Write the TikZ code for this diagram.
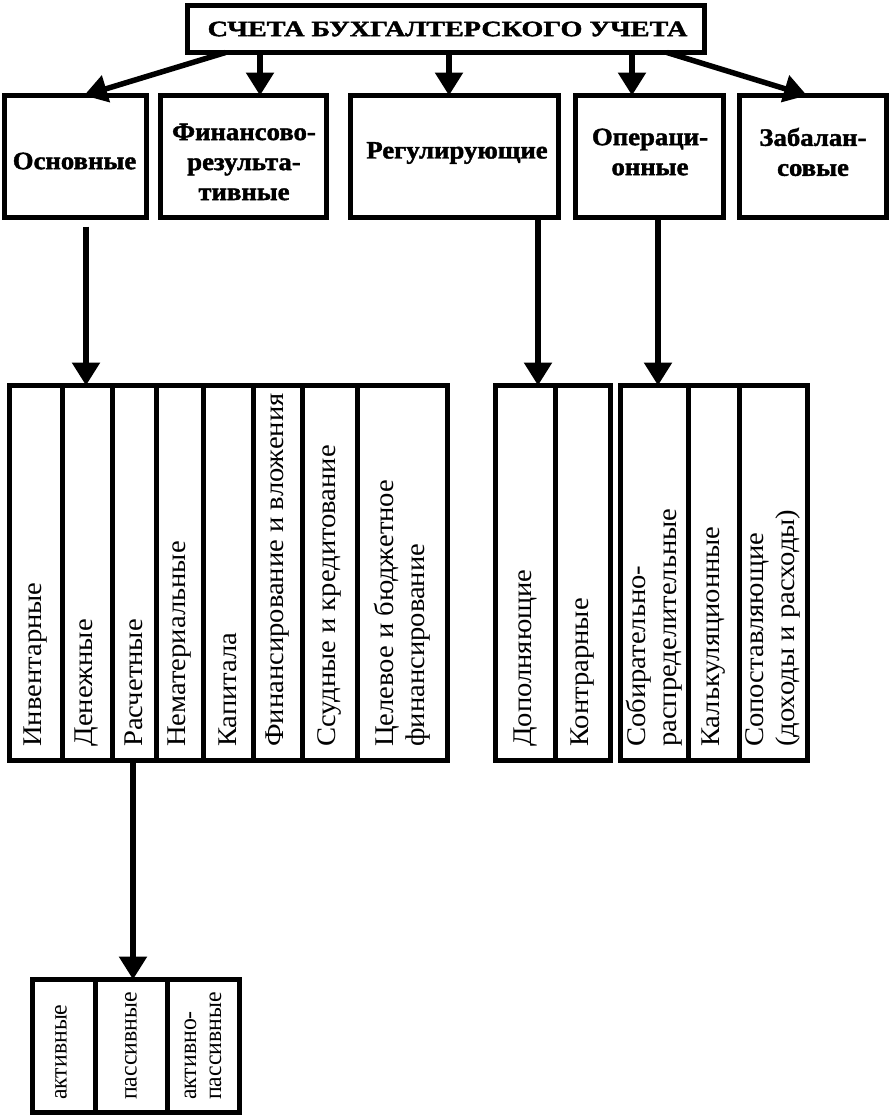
\documentclass[tikz,border=0pt]{standalone}
\usepackage{fontspec}
\usepackage{graphicx}
\setmainfont{Liberation Serif}
\newfontfamily\heavyfont[FakeBold=1.6]{Liberation Serif Bold}
\usetikzlibrary{arrows.meta,calc}
\newcommand{\hs}[2]{\scalebox{#1}[1]{#2}}
\newcommand{\mkcol}[7]{%
  \node[colbox, minimum width={#3-#2}, minimum height={#4-#5}] (#1) at ({(#2+#3)/2},{(#4+#5)/2}) {};
  \node[coltext, anchor=west] (#1t) at ({(#2+#3)/2},#6) {#7};
}
\tikzset{
  box/.style={draw, line width=5pt, rectangle, inner sep=0pt, outer sep=0pt},
  colbox/.style={draw, line width=5pt, rectangle, inner sep=0pt, outer sep=0pt},
  headtext/.style={inner sep=0pt, align=center, font=\fontsize{25pt}{30pt}\selectfont\heavyfont},
  coltext/.style={inner sep=0pt, rotate=90, align=left, font=\fontsize{27pt}{31pt}\selectfont},
  smalltext/.style={inner sep=0pt, rotate=90, align=left, font=\fontsize{24.5pt}{25pt}\selectfont},
  arr/.style={line width=5.5pt, -{Triangle[length=23pt,width=27pt]}},
}
\begin{document}
\begin{tikzpicture}[x=1pt,y=1pt]
\fill[white] (0,0) rectangle (891,-1117);
\useasboundingbox (0,0) rectangle (891,-1117);

% title
\node[box, minimum width=517, minimum height=47] (title) at (446,-29) {};
\node[inner sep=0pt, font=\fontsize{22pt}{24pt}\selectfont\heavyfont] (titlet) at (447.5,-29) {\hs{1.28}{СЧЕТА БУХГАЛТЕРСКОГО УЧЕТА}};

% second row
\node[box, minimum width=142, minimum height=122] (osn) at (75.5,-156.5) {};
\node[box, minimum width=166, minimum height=122] (fin) at (243.5,-156.5) {};
\node[box, minimum width=208, minimum height=122] (reg) at (454.5,-156.5) {};
\node[box, minimum width=148, minimum height=122] (oper) at (649.5,-156.5) {};
\node[box, minimum width=147, minimum height=122] (zab) at (813,-156.5) {};

\node[headtext] (osnt) at (74.5,-161) {\hs{1.07}{Основные}};
\node[headtext] (fint) at (244,-162) {\hs{1.07}{Финансово-}\\\hs{1.07}{результа-}\\\hs{1.07}{тивные}};
\node[headtext] (regt) at (457,-153) {\hs{1.07}{Регулирующие}};
\node[headtext] (opert) at (650,-152) {\hs{1.07}{Операци-}\\\hs{1.07}{онные}};
\node[headtext] (zabt) at (813,-152) {\hs{1.07}{Забалан-}\\\hs{1.07}{совые}};

% arrows from title
\draw[arr] ($(title.south west)+(38,0)$) -- ($(osn.north)+(8.5,0)$);
\coordinate (a2) at ($(fin.north)+(16.5,0)$);
\draw[arr] (title.south -| a2) -- (a2);
\coordinate (a3) at ($(reg.north)+(-5.5,0)$);
\draw[arr] (title.south -| a3) -- (a3);
\coordinate (a4) at ($(oper.north)+(-17.5,0)$);
\draw[arr] (title.south -| a4) -- (a4);
\draw[arr] ($(title.south east)+(-37.5,0)$) -- ($(zab.north)+(-6,0)$);

% left group of columns
\mkcol{c1}{9.5}{62}{-385.5}{-760.5}{-747}{\hs{1.06}{Инвентарные}}
\mkcol{c2}{62}{112}{-385.5}{-760.5}{-747}{\hs{1.06}{Денежные}}
\mkcol{c3}{112}{156}{-385.5}{-760.5}{-747}{\hs{1.06}{Расчетные}}
\mkcol{c4}{156}{203}{-385.5}{-760.5}{-747}{\hs{1.06}{Нематериальные}}
\mkcol{c5}{203}{253}{-385.5}{-760.5}{-747}{\hs{1.06}{Капитала}}
\mkcol{c6}{253}{302}{-385.5}{-760.5}{-747}{\hs{1.06}{Финансирование и вложения}}
\mkcol{c7}{302}{357}{-385.5}{-760.5}{-747}{\hs{1.06}{Ссудные и кредитование}}
\mkcol{c8}{357}{447.5}{-385.5}{-760.5}{-747}{\hs{1.06}{Целевое и бюджетное}\\\hs{1.06}{финансирование}}

% regulating columns
\mkcol{r1}{495.5}{555}{-385.5}{-760.5}{-747}{\hs{1.06}{Дополняющие}}
\mkcol{r2}{555}{610.5}{-385.5}{-760.5}{-747}{\hs{1.06}{Контрарные}}

% operational columns
\mkcol{o1}{620.5}{688}{-385.5}{-760.5}{-747}{\hs{1.06}{Собирательно-}\\\hs{1.06}{распределительные}}
\mkcol{o2}{688}{739}{-385.5}{-760.5}{-747}{\hs{1.06}{Калькуляционные}}
\mkcol{o3}{739}{807.5}{-385.5}{-760.5}{-747}{\hs{1.06}{Сопоставляющие}\\\hs{1.06}{(доходы и расходы)}}

% arrows to columns
\coordinate (b1) at (86,-385.5);
\draw[arr] ($(osn.south)+(10.5,-9)$) -- (b1);
\coordinate (b2) at (538,-385.5);
\draw[arr] (reg.south -| b2) -- (b2);
\coordinate (b3) at (658,-385.5);
\draw[arr] (oper.south -| b3) -- (b3);

% bottom boxes
\node[colbox, minimum width=62.5, minimum height=133] (d1) at (63.75,-1046) {};
\node[colbox, minimum width=72, minimum height=133] (d2) at (131,-1046) {};
\node[colbox, minimum width=72.5, minimum height=133] (d3) at (203.25,-1046) {};
\node[smalltext, anchor=west] (d1t) at (61,-1100) {\hs{0.97}{активные}};
\node[smalltext, anchor=west] (d2t) at (131,-1100) {\hs{0.97}{пассивные}};
\node[smalltext, anchor=west] (d3t) at (203,-1100) {\hs{0.97}{активно-}\\\hs{0.97}{пассивные}};

\coordinate (b4) at (133,-979.5);
\draw[arr] (c3.south -| b4) -- (b4);
\end{tikzpicture}
\end{document}
